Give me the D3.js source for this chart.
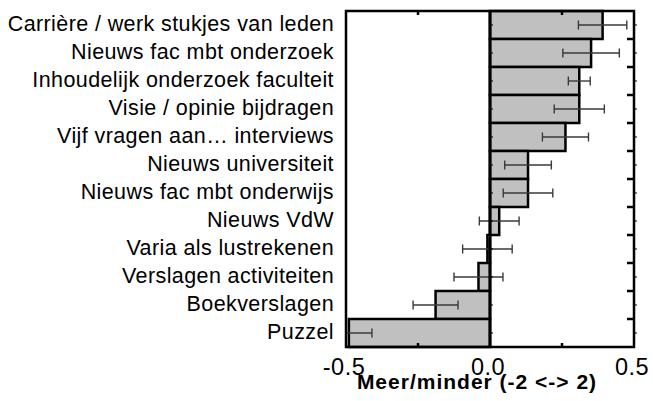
<!DOCTYPE html>
<html lang="en">
<head>
    <meta charset="UTF-8">
    <title>Meer/minder</title>
    <style>
        body { margin: 0; background: #fff; overflow: hidden; }
        text { font-family: "Liberation Sans", Arial, sans-serif; fill: #000; }
    </style>
</head>
<body>
    <div id="container"></div>
    <script src="https://d3js.org/d3.v7.min.js"></script>
    <script>
        // Categories top to bottom, with mean score and error half-width
        var categories = [
            "Carrière / werk stukjes van leden",
            "Nieuws fac mbt onderzoek",
            "Inhoudelijk onderzoek faculteit",
            "Visie / opinie bijdragen",
            "Vijf vragen aan\u2026 interviews",
            "Nieuws universiteit",
            "Nieuws fac mbt onderwijs",
            "Nieuws VdW",
            "Varia als lustrekenen",
            "Verslagen activiteiten",
            "Boekverslagen",
            "Puzzel"
        ];
        var values = [0.391, 0.351, 0.310, 0.310, 0.262, 0.132, 0.132, 0.032, -0.009, -0.040, -0.189, -0.490];
        var errors = [0.084, 0.098, 0.038, 0.087, 0.080, 0.081, 0.086, 0.069, 0.086, 0.085, 0.078, 0.080];
        var xTicks = [-0.5, 0, 0.5];
        var xMinor = [-0.25, 0.25];

        var width = 653, height = 401;
        var plotLeft = 346, plotRight = 634, plotTop = 11, plotBottom = 347;

        var svg = d3.select("#container").append("svg")
            .attr("width", width)
            .attr("height", height);

        var x = d3.scaleLinear().domain([-0.5, 0.5]).range([plotLeft, plotRight]);
        var y = d3.scaleBand().domain(categories).range([plotTop, plotBottom]).padding(0);

        svg.append("clipPath").attr("id", "plot-clip")
            .append("rect")
            .attr("x", plotLeft).attr("y", plotTop)
            .attr("width", plotRight - plotLeft).attr("height", plotBottom - plotTop);

        // bars
        svg.append("g").selectAll("rect")
            .data(categories)
            .enter()
            .append("rect")
            .attr("x", function (d, i) { return x(Math.min(0, values[i])); })
            .attr("y", function (d) { return y(d); })
            .attr("width", function (d, i) { return Math.abs(x(values[i]) - x(0)); })
            .attr("height", y.bandwidth())
            .attr("fill", "#c0c0c0")
            .attr("stroke", "#000")
            .attr("stroke-width", 2.5);

        // error bars
        var eb = svg.append("g")
            .attr("clip-path", "url(#plot-clip)")
            .attr("stroke", "#3a3a3a")
            .attr("stroke-width", 1.4);
        categories.forEach(function (c, i) {
            var cy = y(c) + y.bandwidth() / 2;
            var x0 = x(values[i] - errors[i]), x1 = x(values[i] + errors[i]);
            eb.append("line").attr("x1", x0).attr("x2", x1).attr("y1", cy).attr("y2", cy);
            eb.append("line").attr("x1", x0).attr("x2", x0).attr("y1", cy - 4.5).attr("y2", cy + 4.5);
            eb.append("line").attr("x1", x1).attr("x2", x1).attr("y1", cy - 4.5).attr("y2", cy + 4.5);
        });

        // zero line
        svg.append("line")
            .attr("x1", x(0)).attr("x2", x(0))
            .attr("y1", plotTop).attr("y2", plotBottom)
            .attr("stroke", "#000").attr("stroke-width", 3);

        // small ticks next to zero line at category centres
        svg.append("g").selectAll("line")
            .data(categories)
            .enter()
            .append("line")
            .attr("x1", x(0)).attr("x2", x(0) + 3)
            .attr("y1", function (d) { return y(d) + y.bandwidth() / 2; })
            .attr("y2", function (d) { return y(d) + y.bandwidth() / 2; })
            .attr("stroke", "#000").attr("stroke-width", 1);

        // frame
        svg.append("rect")
            .attr("x", plotLeft).attr("y", plotTop)
            .attr("width", plotRight - plotLeft).attr("height", plotBottom - plotTop)
            .attr("fill", "none")
            .attr("stroke", "#000")
            .attr("stroke-width", 2.5);

        // top / bottom minor ticks
        xMinor.forEach(function (v) {
            svg.append("line").attr("x1", x(v)).attr("x2", x(v))
                .attr("y1", plotTop).attr("y2", plotTop + 4)
                .attr("stroke", "#000").attr("stroke-width", 2.5);
            svg.append("line").attr("x1", x(v)).attr("x2", x(v))
                .attr("y1", plotBottom - 4).attr("y2", plotBottom)
                .attr("stroke", "#000").attr("stroke-width", 2.5);
        });

        // right side ticks at band boundaries
        categories.forEach(function (c, i) {
            if (i > 0) {
                svg.append("line")
                    .attr("x1", plotRight - 7).attr("x2", plotRight)
                    .attr("y1", y(c)).attr("y2", y(c))
                    .attr("stroke", "#000").attr("stroke-width", 2.5);
            }
            var cy = y(c) + y.bandwidth() / 2;
            svg.append("line")
                .attr("x1", plotRight).attr("x2", plotRight + 3)
                .attr("y1", cy).attr("y2", cy)
                .attr("stroke", "#000").attr("stroke-width", 1);
        });

        // category labels
        svg.append("g").selectAll("text")
            .data(categories)
            .enter()
            .append("text")
            .attr("x", 334)
            .attr("y", function (d) { return y(d) + y.bandwidth() / 2 + 6; })
            .attr("text-anchor", "end")
            .style("font-size", "21.5px")
            .style("letter-spacing", "0.4px")
            .text(function (d) { return d; });

        // x tick labels
        svg.append("g").selectAll("text")
            .data(xTicks)
            .enter()
            .append("text")
            .attr("x", function (d) { return x(d) - 2; })
            .attr("y", 375)
            .attr("text-anchor", "middle")
            .style("font-size", "23.5px")
            .style("letter-spacing", "0.5px")
            .text(function (d) { return d3.format(".1f")(d).replace("\u2212", "-"); });

        // x axis title
        svg.append("text")
            .attr("x", 477)
            .attr("y", 389)
            .attr("text-anchor", "middle")
            .style("font-size", "21px")
            .style("font-weight", "bold")
            .style("letter-spacing", "1px")
            .text("Meer/minder (-2 <-> 2)");
    </script>
</body>
</html>
